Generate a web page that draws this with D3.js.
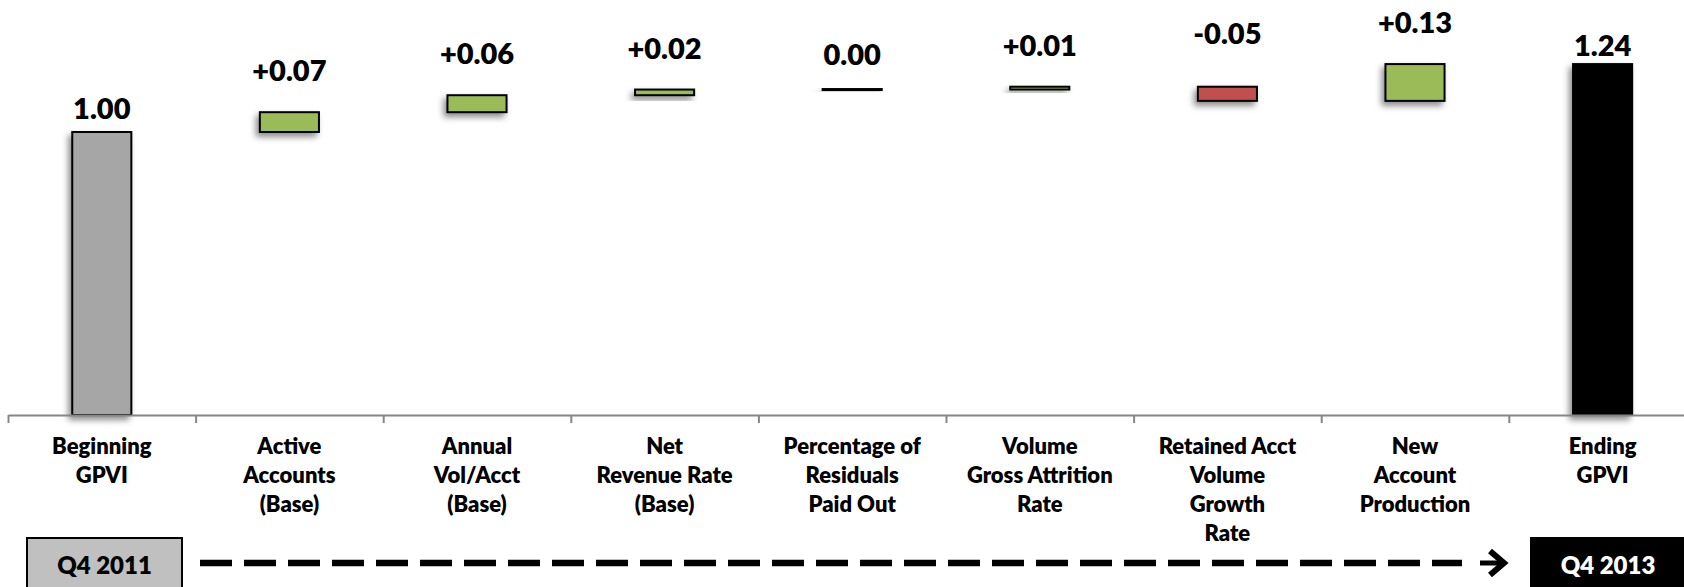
<!DOCTYPE html>
<html>
<head>
<meta charset="utf-8">
<script src="https://cdn.jsdelivr.net/npm/d3@7"></script>
<style>
  html, body { margin: 0; padding: 0; background: #fff; }
  svg { display: block; }
  text { font-family: "Lato", "Open Sans", sans-serif; font-weight: 800; }
</style>
</head>
<body>
<script>
// GPVI bridge: Q4 2011 → Q4 2013
const categories = [
  ["Beginning", "GPVI"],
  ["Active", "Accounts", "(Base)"],
  ["Annual", "Vol/Acct", "(Base)"],
  ["Net", "Revenue Rate", "(Base)"],
  ["Percentage of", "Residuals", "Paid Out"],
  ["Volume", "Gross Attrition", "Rate"],
  ["Retained Acct", "Volume", "Growth", "Rate"],
  ["New", "Account", "Production"],
  ["Ending", "GPVI"]
];
const beginningValue = 1.00;
const deltas = [0.07, 0.06, 0.02, 0.00, 0.01, -0.05, 0.13];
const endingValue = 1.24;
const periodStart = "Q4 2011";
const periodEnd = "Q4 2013";

const W = 1684, H = 587;
const svg = d3.select("body").append("svg").attr("width", W).attr("height", H);

const defs = svg.append("defs");
const shadow = defs.append("filter").attr("id", "shadow")
  .attr("x", "-30%").attr("y", "-60%").attr("width", "160%").attr("height", "260%");
shadow.append("feDropShadow")
  .attr("dx", -3).attr("dy", 4).attr("stdDeviation", 3)
  .attr("flood-color", "#000").attr("flood-opacity", 0.45);

// Build waterfall segments
const steps = [];
steps.push({ kind: "total", start: 0, end: beginningValue, value: beginningValue });
let run = beginningValue;
deltas.forEach(d => {
  steps.push({ kind: "delta", start: run, end: run + d, value: d });
  run += d;
});
steps.push({ kind: "total", start: 0, end: endingValue, value: endingValue, last: true });

const axisY = 415;
const step = 187.6;
const x0 = 8;
const x = d3.scaleBand().domain(d3.range(categories.length))
  .range([x0, x0 + step * categories.length]).padding(0);
const y = d3.scaleLinear().domain([0, 1]).range([axisY, 132]);
const barW = x.bandwidth() * 0.315;

const fillFor = s => {
  if (s.kind === "total") return s.last ? "#000000" : "#a6a6a6";
  if (s.value === 0) return "#000000";
  return s.value < 0 ? "#c0504d" : "#9bbb59";
};

// Bars (a zero change is drawn as a thin rule)
svg.append("g").selectAll("rect").data(steps).join("rect")
  .attr("x", (s, i) => x(i) + (x.bandwidth() - barW) / 2)
  .attr("y", s => y(Math.max(s.start, s.end)) - (s.value === 0 ? 0.5 : 0))
  .attr("width", barW)
  .attr("height", s => Math.max(Math.abs(y(s.start) - y(s.end)), 1))
  .attr("fill", fillFor)
  .attr("stroke", "#000")
  .attr("stroke-width", 2)
  .attr("filter", "url(#shadow)");

// Value labels
const fmt = d3.format(".2f");
const labelText = s => {
  if (s.kind === "total") return fmt(s.value);
  if (s.value === 0) return "0.00";
  return (s.value > 0 ? "+" : "-") + fmt(Math.abs(s.value));
};
svg.append("g").selectAll("text").data(steps).join("text")
  .attr("x", (s, i) => x(i) + x.bandwidth() / 2)
  .attr("y", s => {
    const top = y(Math.max(s.start, s.end));
    if (s.kind === "total") return top - (s.last ? 8 : 13);
    if (s.value === 0) return top - 25;
    if (s.value < 0) return top - (y(s.start) - y(s.start - s.value)) - 29;
    return top - 31;
  })
  .attr("text-anchor", "middle")
  .attr("font-size", 29)
  .attr("fill", "#000")
  .text(labelText);

// Category axis with ticks at the band boundaries
const bounds = d3.scaleLinear().domain([0, categories.length]).range(x.range());
const axis = svg.append("g").attr("transform", `translate(0,${axisY})`)
  .call(d3.axisBottom(bounds).tickValues(d3.range(categories.length + 1))
    .tickSize(8).tickSizeOuter(0).tickFormat(""));
axis.select(".domain").attr("stroke", "#868686").attr("stroke-width", 2);
axis.selectAll(".tick line").attr("stroke", "#868686").attr("stroke-width", 2);

// Category labels
const catG = svg.append("g");
categories.forEach((lines, i) => {
  const t = catG.append("text")
    .attr("x", x(i) + x.bandwidth() / 2)
    .attr("y", 454)
    .attr("text-anchor", "middle")
    .attr("font-size", 22)
    .attr("fill", "#000");
  lines.forEach((ln, j) => {
    t.append("tspan").attr("x", x(i) + x.bandwidth() / 2)
      .attr("dy", j === 0 ? 0 : 29).text(ln);
  });
});

// Period boxes and the arrow between them
const periodY = 538;
svg.append("rect").attr("x", 27).attr("y", periodY).attr("width", 155).attr("height", 60)
  .attr("fill", "#c0c0c0").attr("stroke", "#000").attr("stroke-width", 2);
svg.append("text").attr("x", 104.5).attr("y", 574).attr("text-anchor", "middle")
  .attr("font-size", 24).attr("fill", "#000").text(periodStart);

svg.append("rect").attr("x", 1531).attr("y", periodY).attr("width", 170).attr("height", 60)
  .attr("fill", "#000").attr("stroke", "#000").attr("stroke-width", 2);
svg.append("text").attr("x", 1608).attr("y", 574).attr("text-anchor", "middle")
  .attr("font-size", 24).attr("fill", "#fff").text(periodEnd);

const arrowY = 563;
svg.append("line").attr("x1", 200).attr("x2", 1462).attr("y1", arrowY).attr("y2", arrowY)
  .attr("stroke", "#000").attr("stroke-width", 6.5).attr("stroke-dasharray", "32,12");
svg.append("line").attr("x1", 1480).attr("x2", 1503).attr("y1", arrowY).attr("y2", arrowY)
  .attr("stroke", "#000").attr("stroke-width", 5);
svg.append("path").attr("d", `M1490,${arrowY - 12} L1504,${arrowY} L1490,${arrowY + 12}`)
  .attr("fill", "none").attr("stroke", "#000").attr("stroke-width", 6)
  .attr("stroke-linejoin", "miter");
</script>
</body>
</html>
